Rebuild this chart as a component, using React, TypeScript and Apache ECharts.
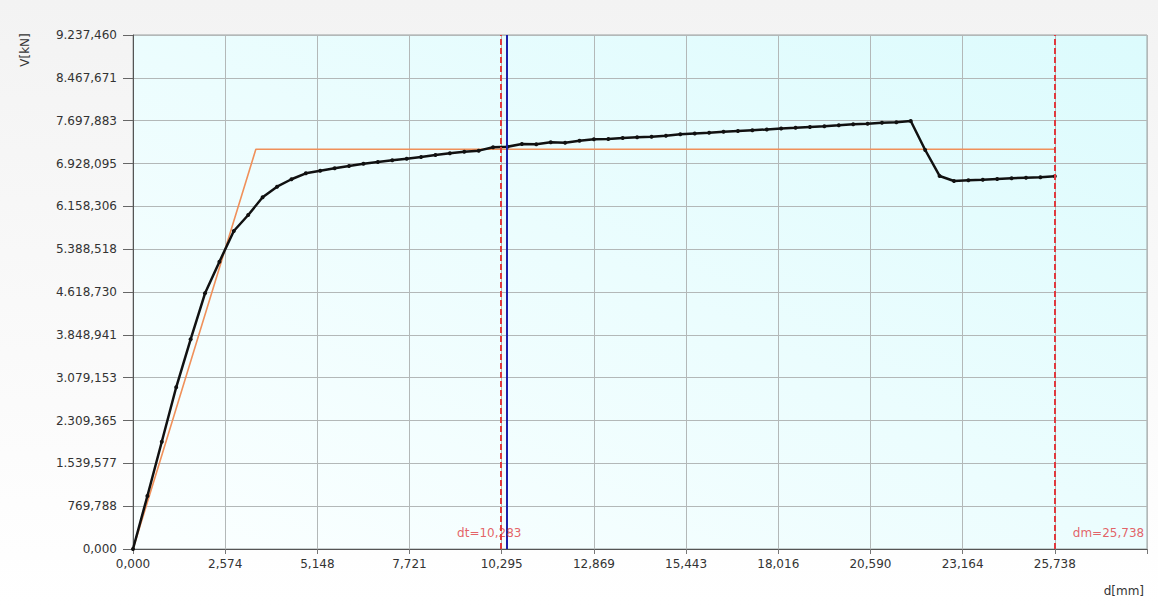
import React, { useEffect, useRef } from "react";
import * as echarts from "echarts";

const X_STEP = 2.5738;
const X_MAX = 28.3118;
const Y_STEP = 769.78833;
const Y_MAX = 9237.46;

const xTickLabels = ["0,000", "2,574", "5,148", "7,721", "10,295", "12,869", "15,443", "18,016", "20,590", "23,164", "25,738"];
const yTickLabels = ["0,000", "769,788", "1.539,577", "2.309,365", "3.079,153", "3.848,941", "4.618,730", "5.388,518", "6.158,306", "6.928,095", "7.697,883", "8.467,671", "9.237,460"];

const curveX = [
  0, 0.402, 0.804, 1.206, 1.609, 2.011, 2.413, 2.815, 3.217, 3.619,
  4.022, 4.424, 4.826, 5.228, 5.630, 6.032, 6.435, 6.837, 7.239, 7.641,
  8.043, 8.445, 8.847, 9.250, 9.652, 10.054, 10.456, 10.858, 11.260, 11.663,
  12.065, 12.467, 12.869, 13.271, 13.673, 14.075, 14.478, 14.880, 15.282, 15.684,
  16.086, 16.488, 16.891, 17.293, 17.695, 18.097, 18.499, 18.901, 19.303, 19.706,
  20.108, 20.510, 20.912, 21.314, 21.716, 22.119, 22.521, 22.923, 23.325, 23.727,
  24.129, 24.531, 24.934, 25.336, 25.738,
];
const curveV = [
  0, 953, 1928, 2906, 3769, 4596, 5164, 5715, 6003, 6321,
  6512, 6645, 6752, 6799, 6842, 6884, 6925, 6956, 6986, 7015,
  7045, 7081, 7112, 7139, 7159, 7220, 7230, 7279, 7274, 7310,
  7302, 7338, 7363, 7369, 7387, 7399, 7410, 7428, 7453, 7468,
  7482, 7498, 7513, 7527, 7541, 7556, 7570, 7585, 7599, 7615,
  7633, 7644, 7662, 7669, 7692, 7171, 6704, 6614, 6627, 6637,
  6650, 6663, 6673, 6681, 6699,
];

const bilinearX = [0, 3.43, 25.738];
const bilinearV = [0, 7183, 7183];

const dt = 10.283;
const dm = 25.738;
const dBlue = 10.44;
const dtLabel = "dt=10,283";
const dmLabel = "dm=25,738";

const FONT = "DejaVu Sans";

export default function App() {
  const ref = useRef<HTMLDivElement>(null);
  useEffect(() => {
    if (!ref.current) return;
    const chart = echarts.init(ref.current, null, { renderer: "svg" });
    const redLine = { color: "#e0393e", width: 2, type: [6, 3] as any };
    chart.setOption({
      animation: false,
      backgroundColor: new echarts.graphic.LinearGradient(0, 0, 0, 1, [
        { offset: 0, color: "#f3f3f3" },
        { offset: 1, color: "#ffffff" },
      ]),
      grid: {
        left: 133,
        right: 11,
        top: 35,
        bottom: 56,
        show: true,
        borderColor: "#9aa0a0",
        borderWidth: 1,
        backgroundColor: new echarts.graphic.LinearGradient(0, 1, 1, 0, [
          { offset: 0, color: "#fbffff" },
          { offset: 1, color: "#dcfbfd" },
        ]),
      },
      xAxis: {
        type: "value",
        min: 0,
        max: X_MAX,
        interval: X_STEP,
        axisLine: { show: true, lineStyle: { color: "#555", width: 1 } },
        axisTick: { show: true, length: 5, lineStyle: { color: "#777" } },
        splitLine: { show: true, lineStyle: { color: "#b3b8b8", width: 1 } },
        axisLabel: {
          margin: 9,
          color: "#333",
          fontFamily: FONT,
          fontSize: 12,
          showMaxLabel: true,
          formatter: (v: number) => xTickLabels[Math.round(v / X_STEP)] ?? "",
        },
      },
      yAxis: {
        type: "value",
        min: 0,
        max: Y_MAX,
        interval: Y_STEP,
        axisLine: { show: true, lineStyle: { color: "#555", width: 1 } },
        axisTick: { show: true, length: 10, lineStyle: { color: "#666" } },
        splitLine: { show: true, lineStyle: { color: "#b3b8b8", width: 1 } },
        axisLabel: {
          margin: 16,
          color: "#333",
          fontFamily: FONT,
          fontSize: 12,
          formatter: (v: number) => yTickLabels[Math.round(v / Y_STEP)] ?? "",
        },
      },
      graphic: [
        {
          type: "text",
          x: 25,
          y: 50,
          rotation: Math.PI / 2,
          style: {
            text: "V[kN]",
            fill: "#333",
            font: `12px '${FONT}'`,
            align: "center",
            verticalAlign: "middle",
          },
        },
        {
          type: "text",
          right: 14,
          top: 585,
          style: {
            text: "d[mm]",
            fill: "#333",
            font: `12px '${FONT}'`,
          },
        },
      ],
      series: [
        {
          type: "line",
          name: "bilinear",
          data: bilinearX.map((x, i) => [x, bilinearV[i]]),
          symbol: "none",
          lineStyle: { color: "#f0905a", width: 1.6 },
          z: 2,
        },
        {
          type: "line",
          name: "curve",
          data: curveX.map((x, i) => [x, curveV[i]]),
          symbol: "circle",
          symbolSize: 4,
          itemStyle: { color: "#111" },
          lineStyle: { color: "#111", width: 2.5 },
          z: 4,
          markLine: {
            silent: true,
            symbol: "none",
            label: { show: false },
            data: [
              { xAxis: dt, lineStyle: redLine },
              { xAxis: dm, lineStyle: redLine },
              { xAxis: dBlue, lineStyle: { color: "#1c1ca8", width: 2, type: "solid" } },
            ],
          },
        },
        {
          type: "scatter",
          name: "labels",
          data: [
            { value: [dt, 0], label: { formatter: dtLabel, offset: [-12, -16], align: "center" } },
            { value: [dm, 0], label: { formatter: dmLabel, offset: [18, -16], align: "left" } },
          ],
          symbolSize: 1,
          itemStyle: { color: "rgba(0,0,0,0)" },
          silent: true,
          z: 6,
          label: {
            show: true,
            position: "inside",
            color: "#e0393e",
            fontFamily: FONT,
            fontSize: 12,
          },
        },
      ],
    });
    return () => chart.dispose();
  }, []);
  return (
    <div
      ref={ref}
      style={{ position: "fixed", left: 0, top: 0, width: 1158, height: 605 }}
    />
  );
}
